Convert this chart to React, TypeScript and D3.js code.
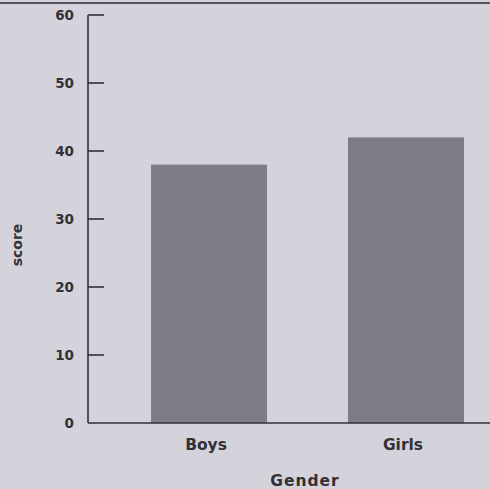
import React from "react";
import * as d3 from "d3";

const categories = ["Boys", "Girls"];
const scores = [38, 42];
const yTicks = [0, 10, 20, 30, 40, 50, 60];

const W = 490;
const H = 489;
const bg = "#d4d3db";
const ink = "#323137";
const barFill = "#7e7d85";
const font = "'DejaVu Sans', sans-serif";

const App = () => {
  const x = d3
    .scaleBand()
    .domain(categories)
    .range([88, 490])
    .paddingInner(0.411)
    .paddingOuter(0.226)
    .align(0.708);
  const y = d3.scaleLinear().domain([0, 60]).range([423, 15]);

  return (
    <svg
      width={W}
      height={H}
      style={{ position: "absolute", left: 0, top: 0, background: bg }}
    >
      <rect width={W} height={H} fill={bg} />
      {/* rule at top of page */}
      <line x1={0} x2={W} y1={3} y2={3} stroke="#55545c" strokeWidth={2} />

      {categories.map((c, i) => (
        <rect
          key={c}
          x={x(c)}
          y={y(scores[i])}
          width={x.bandwidth()}
          height={y(0) - y(scores[i])}
          fill={barFill}
        />
      ))}

      {/* y axis */}
      <line x1={88} x2={88} y1={y(60)} y2={y(0)} stroke={ink} strokeWidth={1.6} />
      {yTicks.map(t => (
        <g key={t} transform={`translate(0 ${y(t)})`}>
          {t > 0 && <line x1={88} x2={104} stroke={ink} strokeWidth={1.6} />}
          <text
            x={74}
            dy="0.35em"
            textAnchor="end"
            fontFamily={font}
            fontWeight="bold"
            fontSize="13.5"
            fill={ink}
          >
            {t}
          </text>
        </g>
      ))}

      {/* x axis */}
      <line x1={88} x2={W} y1={y(0)} y2={y(0)} stroke={ink} strokeWidth={1.6} />
      {categories.map(c => (
        <text
          key={c}
          x={x(c) + x.bandwidth() / 2 - 3}
          y={450}
          textAnchor="middle"
          fontFamily={font}
          fontWeight="bold"
          fontSize="15.5"
          fill={ink}
        >
          {c}
        </text>
      ))}

      <text
        x={305}
        y={486}
        textAnchor="middle"
        fontFamily={font}
        fontWeight="bold"
        fontSize="15.5"
        letterSpacing="1"
        fill={ink}
      >
        Gender
      </text>
      <text
        transform="translate(22 245) rotate(-90)"
        textAnchor="middle"
        fontFamily={font}
        fontWeight="bold"
        fontSize="14"
        fill={ink}
      >
        score
      </text>
    </svg>
  );
};

export default App;
